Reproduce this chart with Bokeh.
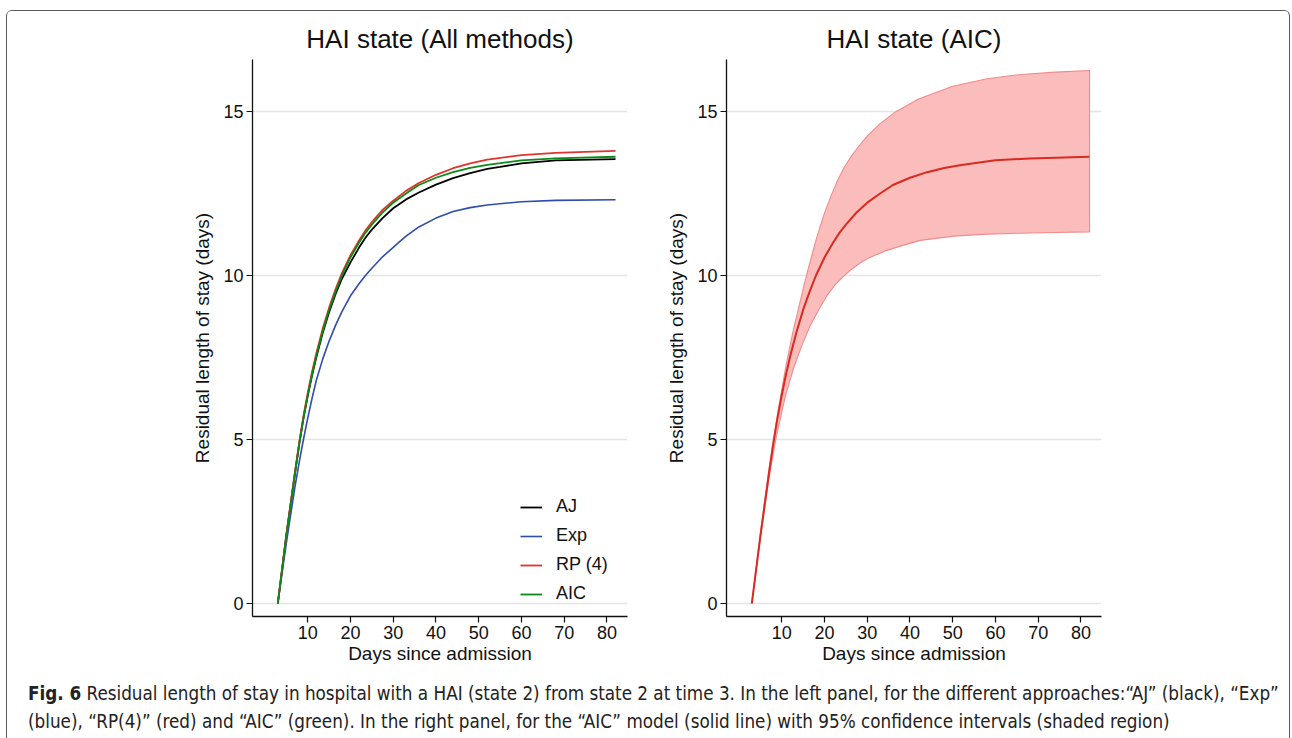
from bokeh.plotting import figure
from bokeh.layouts import row, column
from bokeh.models import Range1d, Legend, LegendItem, Div, FixedTicker
from bokeh.embed import file_html
from bokeh.resources import INLINE

# ---------------- data ----------------
aj_days = [3, 5, 7, 8, 9, 10, 11, 12, 13.5, 15, 16.5, 18, 20, 22, 23.5, 25, 27.5, 30, 33, 36, 40, 44, 48, 52, 55, 60, 68, 82]
aj_los = [0, 2.1, 3.95, 4.85, 5.65, 6.33, 6.95, 7.5, 8.25, 8.88, 9.43, 9.9, 10.4, 10.85, 11.15, 11.4, 11.75, 12.05, 12.32, 12.53, 12.77, 12.97, 13.12, 13.25, 13.31, 13.42, 13.51, 13.55]

exp_days = [3, 5, 7, 8, 9, 10, 11, 12, 13.5, 15, 16.5, 18, 20, 22, 23.5, 25, 27.5, 30, 31.5, 33, 36, 40, 44, 48, 52, 60, 68, 82]
exp_los = [0, 1.85, 3.55, 4.3, 5.0, 5.65, 6.25, 6.8, 7.45, 8.0, 8.48, 8.9, 9.38, 9.75, 10.0, 10.22, 10.57, 10.86, 11.03, 11.2, 11.48, 11.75, 11.95, 12.07, 12.15, 12.25, 12.29, 12.31]

rp_days = [3, 5, 7, 8, 9, 10, 11, 12, 13.5, 15, 16.5, 18, 20, 22, 23.5, 25, 27.5, 30, 33, 36, 40, 44, 48, 52, 60, 68, 82]
rp_los = [0, 2.1, 4.0, 4.9, 5.72, 6.42, 7.05, 7.62, 8.38, 9.02, 9.58, 10.07, 10.62, 11.07, 11.37, 11.63, 12.0, 12.28, 12.58, 12.82, 13.07, 13.27, 13.42, 13.53, 13.67, 13.74, 13.80]

aic_days = [3, 5, 7, 8, 9, 10, 11, 12, 13.5, 15, 16.5, 18, 20, 22, 23.5, 25, 27.5, 30, 33, 36, 40, 44, 48, 52, 60, 68, 82]
aic_los = [0, 2.05, 3.95, 4.85, 5.65, 6.35, 6.98, 7.55, 8.3, 8.95, 9.5, 10.0, 10.55, 11.0, 11.3, 11.55, 11.92, 12.22, 12.5, 12.76, 12.98, 13.15, 13.28, 13.37, 13.51, 13.57, 13.62]

ci_upper_days = [3, 5, 7, 8, 9, 10, 11, 12, 13, 14.2, 15.5, 16.8, 18, 19, 20, 21.5, 23, 24.5, 26, 28, 30, 33, 36.5, 42, 50, 58, 66, 74, 82]
ci_upper = [0, 2.15, 4.1, 4.95, 5.75, 6.52, 7.25, 7.9, 8.5, 9.15, 9.85, 10.5, 11.07, 11.5, 11.9, 12.42, 12.88, 13.27, 13.58, 13.94, 14.25, 14.63, 14.98, 15.38, 15.77, 16.0, 16.13, 16.2, 16.25]

ci_lower_days = [3, 5, 7, 8.6, 10.8, 12.7, 14.7, 16.6, 18.6, 20.5, 22.5, 24.5, 26.4, 28.3, 30.3, 34.2, 38.1, 42.4, 50.2, 58, 65.8, 73.6, 82]
ci_lower = [0, 2.0, 3.8, 5.0, 6.3, 7.15, 7.87, 8.45, 8.95, 9.37, 9.72, 9.98, 10.2, 10.38, 10.53, 10.75, 10.91, 11.07, 11.2, 11.26, 11.29, 11.31, 11.33]

x_ticks = [10, 20, 30, 40, 50, 60, 70, 80]
y_ticks = [0, 5, 10, 15]

FONT = "Liberation Sans"


def make_fig(title, width, mb_left, mb_right):
    p = figure(width=width, height=661,
               x_range=Range1d(-2.92, 84.8), y_range=Range1d(-0.396, 16.585),
               output_backend="svg", toolbar_location=None,
               min_border_left=mb_left, min_border_right=mb_right,
               min_border_top=48, min_border_bottom=56)
    p.title.text = title
    p.title.align = "center"
    p.title.text_font = FONT
    p.title.text_font_size = "26px"
    p.title.text_font_style = "normal"
    p.title.text_color = "#111111"
    p.title.standoff = 11
    p.outline_line_color = None
    p.xgrid.visible = False
    p.ygrid.grid_line_color = "#e4e4e4"
    p.ygrid.grid_line_width = 1.6
    p.xaxis.ticker = FixedTicker(ticks=x_ticks)
    p.yaxis.ticker = FixedTicker(ticks=y_ticks)
    for ax in (p.xaxis[0], p.yaxis[0]):
        ax.axis_line_color = "#111111"
        ax.axis_line_width = 1.3
        ax.major_tick_line_color = "#111111"
        ax.major_tick_line_width = 1.2
        ax.major_tick_out = 6
        ax.major_tick_in = 0
        ax.minor_tick_line_color = None
        ax.major_label_text_font = FONT
        ax.major_label_text_font_size = "18px"
        ax.major_label_text_color = "#111111"
        ax.axis_label_text_font = FONT
        ax.axis_label_text_font_size = "19px"
        ax.axis_label_text_font_style = "normal"
        ax.axis_label_text_color = "#111111"
    p.xaxis.axis_label = "Days since admission"
    p.yaxis.axis_label = "Residual length of stay (days)"
    p.xaxis.major_label_standoff = 3
    p.xaxis.axis_label_standoff = 1
    p.yaxis.major_label_standoff = 3
    p.yaxis.axis_label_standoff = 7
    return p


# ---------------- left panel ----------------
p1 = make_fig("HAI state (All methods)", 637, 245, 17)
r_aj = p1.line(aj_days, aj_los, line_color="#000000", line_width=1.8)
r_exp = p1.line(exp_days, exp_los, line_color="#2f4cae", line_width=1.6)
r_rp = p1.line(rp_days, rp_los, line_color="#e3322b", line_width=1.8)
r_aic = p1.line(aic_days, aic_los, line_color="#0b8a17", line_width=1.8)

legend = Legend(items=[LegendItem(label="AJ", renderers=[r_aj]),
                       LegendItem(label="Exp", renderers=[r_exp]),
                       LegendItem(label="RP (4)", renderers=[r_rp]),
                       LegendItem(label="AIC", renderers=[r_aic])],
                location=(268, 12), orientation="vertical",
                border_line_color=None, background_fill_alpha=0,
                padding=0, margin=0, spacing=8, glyph_width=22, glyph_height=20,
                label_height=20, label_standoff=14,
                label_text_font=FONT, label_text_font_size="18px",
                label_text_color="#111111")
p1.add_layout(legend)

# ---------------- right panel ----------------
p2 = make_fig("HAI state (AIC)", 644, 82, 187)
p2.patch(ci_upper_days + ci_lower_days[::-1], ci_upper + ci_lower[::-1],
         fill_color="#fbbcbc", fill_alpha=1.0, line_color="#f08b8b", line_width=1.1)
p2.line(aic_days, aic_los, line_color="#d92a20", line_width=2.0)

caption = Div(
    text=("<b>Fig. 6</b> Residual length of stay in hospital with a HAI (state 2) from state 2 at time 3. "
          "In the left panel, for the different approaches:\u201cAJ\u201d (black), \u201cExp\u201d<br>"
          "(blue), \u201cRP(4)\u201d (red) and \u201cAIC\u201d (green). In the right panel, for the "
          "\u201cAIC\u201d model (solid line) with 95% confidence intervals (shaded region)"),
    width=1281, height=65,
    styles={"font-family": "'Liberation Sans Narrow', 'DejaVu Sans Condensed', sans-serif",
            "font-size": "18.7px", "line-height": "28px", "padding-left": "16px",
            "padding-top": "3px", "white-space": "nowrap", "color": "#222222",
            "box-sizing": "border-box"})

layout = column(row(p1, p2), caption, width=1284,
                styles={"margin-left": "6px", "margin-top": "10px",
                        "box-sizing": "border-box",
                        "border-top": "1.5px solid #5a5a5a",
                        "border-left": "1.5px solid #5a5a5a",
                        "border-right": "1.5px solid #5a5a5a",
                        "border-radius": "6px 6px 0 0"})

open("out.html", "w").write(file_html(layout, INLINE))
